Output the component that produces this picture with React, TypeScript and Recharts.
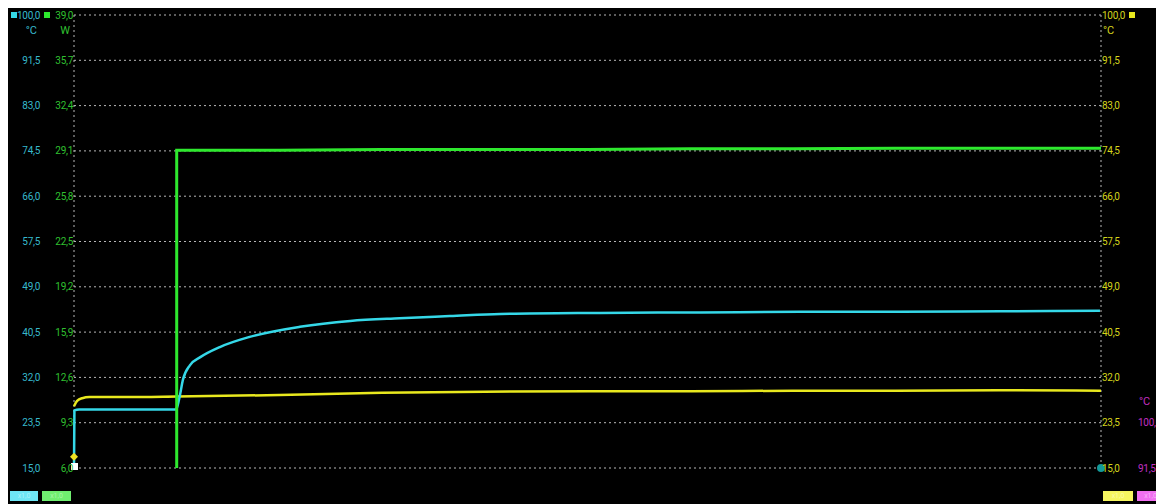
import { ComposedChart, Line, XAxis, YAxis, CartesianGrid, ReferenceDot } from 'recharts';

// time axis in grid divisions
const timeTicks = [0, 1, 2, 3, 4, 5, 6, 7, 8, 9, 10];
const tempTicks = [15.0, 23.5, 32.0, 40.5, 49.0, 57.5, 66.0, 74.5, 83.0, 91.5, 100.0];
const powerTicks = [6.0, 9.3, 12.6, 15.9, 19.2, 22.5, 25.8, 29.1, 32.4, 35.7, 39.0];
const magentaTicks = [91.5, 100.0];

// cyan: °C (left, outer)
const cyanTime = [0, 0.004, 0.05, 0.5, 0.99, 1.0, 1.03, 1.06, 1.13, 1.23, 1.42, 1.71, 2.2, 2.69, 3.17, 3.66, 4.15, 5.12, 6.1, 7.07, 8.05, 9.02, 9.99];
const cyanTemp = [15.0, 25.8, 26.0, 26.0, 26.0, 26.2, 28.5, 31.5, 34.3, 35.8, 37.7, 39.6, 41.5, 42.6, 43.1, 43.5, 43.9, 44.1, 44.2, 44.3, 44.3, 44.4, 44.5];

// green: W (left, inner)
const greenTime = [0, 1.0, 1.0, 2, 3, 4, 5, 6, 7, 8, 9, 10];
const greenPower = [0, 0, 29.15, 29.15, 29.2, 29.2, 29.2, 29.25, 29.25, 29.3, 29.3, 29.3];

// yellow: °C (right, inner)
const yellowTime = [0, 0.03, 0.08, 0.15, 0.5, 1.0, 2.0, 3.0, 4.0, 5.0, 6.0, 7.0, 8.0, 9.0, 10.0];
const yellowTemp = [26.6, 27.6, 28.1, 28.3, 28.3, 28.4, 28.7, 29.1, 29.3, 29.4, 29.4, 29.5, 29.5, 29.6, 29.5];

const CYAN = '#35d8e8';
const CYAN_TXT = '#37b9cc';
const GREEN = '#2ee82e';
const GREEN_TXT = '#30c030';
const YELLOW = '#e8e81e';
const YELLOW_TXT = '#d4d41c';
const MAGENTA = '#e020e0';
const MAGENTA_TXT = '#c22fc2';

const toPoints = (t: number[], v: number[]) => t.map((x, i) => ({ t: x, v: v[i] }));
const fmt = (v: number) => v.toFixed(1).replace('.', ',');

const FONT = 'Roboto, "Open Sans", sans-serif';

const abs = (left: number, top: number, extra: React.CSSProperties = {}): React.CSSProperties => ({
  position: 'absolute',
  left,
  top,
  ...extra,
});

// tick label drawn at the position recharts hands over
const makeTick = (fill: string, anchor: 'start' | 'end') => (p: any) => (
  <text
    x={p.x}
    y={p.y}
    dy="0.35em"
    textAnchor={anchor}
    fill={fill}
    fontSize={10}
    letterSpacing={-0.3}
    fontFamily={FONT}
  >
    {fmt(p.payload.value)}
  </text>
);

// axis ids sort inner -> outer: L1 green, L2 cyan, R1 yellow, R2 magenta
export default function App() {
  return (
    <div style={{ position: 'relative', width: 1156, height: 496, background: '#000', fontFamily: FONT }}>
      <style>{'body{overflow:hidden}'}</style>
      <ComposedChart width={1156} height={496} margin={{ top: 7, right: 0, left: 0, bottom: 0 }}>
        <CartesianGrid yAxisId="L2" stroke="#b8b8b8" strokeDasharray="2 3" strokeWidth={1} />
        <XAxis
          dataKey="t"
          type="number"
          domain={[0, 10]}
          ticks={timeTicks}
          tick={false}
          axisLine={false}
          tickLine={false}
          height={36}
          allowDuplicatedCategory={false}
        />
        <YAxis
          yAxisId="L2"
          orientation="left"
          width={34}
          type="number"
          domain={[15, 100]}
          ticks={tempTicks}
          allowDataOverflow
          axisLine={false}
          tickLine={false}
          tickSize={0}
          tickMargin={2}
          interval={0}
          tick={makeTick(CYAN_TXT, 'end')}
        />
        <YAxis
          yAxisId="L1"
          orientation="left"
          width={32}
          type="number"
          domain={[6, 39]}
          ticks={powerTicks}
          allowDataOverflow
          axisLine={false}
          tickLine={false}
          tickSize={0}
          tickMargin={1}
          interval={0}
          tick={makeTick(GREEN_TXT, 'end')}
        />
        <YAxis
          yAxisId="R1"
          orientation="right"
          width={36}
          type="number"
          domain={[15, 100]}
          ticks={tempTicks}
          allowDataOverflow
          axisLine={false}
          tickLine={false}
          tickSize={0}
          tickMargin={1}
          interval={0}
          tick={makeTick(YELLOW_TXT, 'start')}
        />
        <YAxis
          yAxisId="R2"
          orientation="right"
          width={27}
          type="number"
          domain={[91.5, 176.5]}
          ticks={magentaTicks}
          allowDataOverflow
          axisLine={false}
          tickLine={false}
          tickSize={0}
          tickMargin={1}
          interval={0}
          tick={makeTick(MAGENTA_TXT, 'start')}
        />
        <Line
          yAxisId="R1"
          data={toPoints(yellowTime, yellowTemp)}
          dataKey="v"
          type="monotone"
          stroke={YELLOW}
          strokeWidth={2.5}
          dot={false}
          isAnimationActive={false}
        />
        <Line
          yAxisId="L2"
          data={toPoints(cyanTime, cyanTemp)}
          dataKey="v"
          type="monotone"
          stroke={CYAN}
          strokeWidth={2.5}
          dot={false}
          isAnimationActive={false}
        />
        <Line
          yAxisId="L1"
          data={toPoints(greenTime, greenPower)}
          dataKey="v"
          type="linear"
          stroke={GREEN}
          strokeWidth={3}
          dot={false}
          isAnimationActive={false}
        />
        <ReferenceDot
          yAxisId="R1"
          x={0}
          y={17.1}
          shape={(p: any) => (
            <polygon
              points={`${p.cx},${p.cy - 4} ${p.cx + 4},${p.cy} ${p.cx},${p.cy + 4} ${p.cx - 4},${p.cy}`}
              fill="#f0e020"
            />
          )}
        />
        <ReferenceDot
          yAxisId="L2"
          x={0}
          y={15}
          shape={(p: any) => <rect x={p.cx - 3} y={p.cy - 5} width={7} height={7} fill="#ffffff" />}
        />
        <ReferenceDot
          yAxisId="L2"
          x={10}
          y={15}
          shape={(p: any) => <circle cx={p.cx} cy={p.cy} r={4} fill="#139a9a" />}
        />
      </ComposedChart>

      {/* channel markers and units */}
      <div style={abs(3, 4, { width: 6, height: 6, background: CYAN })} />
      <div style={abs(36, 4, { width: 6, height: 6, background: GREEN })} />
      <div style={abs(1121, 4, { width: 6, height: 6, background: YELLOW })} />
      <div style={abs(1150, 4, { width: 6, height: 6, background: MAGENTA })} />

      <div style={abs(0, 16, { width: 29, textAlign: 'right', fontSize: 11, lineHeight: '14px', color: CYAN_TXT })}>°C</div>
      <div style={abs(34, 16, { width: 28, textAlign: 'right', fontSize: 11, lineHeight: '14px', color: GREEN_TXT })}>W</div>
      <div style={abs(1095, 16, { fontSize: 11, lineHeight: '14px', color: YELLOW_TXT })}>°C</div>
      <div style={abs(1131, 387, { fontSize: 11, lineHeight: '14px', color: MAGENTA_TXT })}>°C</div>

      {/* scale boxes */}
      <div style={abs(2, 483, { width: 28, height: 10, background: '#6ee6f5', color: '#a8f2fa', fontSize: 7, lineHeight: '10px', textAlign: 'center' })}>x1,0</div>
      <div style={abs(34, 483, { width: 29, height: 10, background: '#70ee70', color: '#a8f6a8', fontSize: 7, lineHeight: '10px', textAlign: 'center' })}>x1,0</div>
      <div style={abs(1095, 483, { width: 30, height: 10, background: '#f6f660', color: '#fafaa8', fontSize: 7, lineHeight: '10px', textAlign: 'center' })}>x1,0</div>
      <div style={abs(1129, 483, { width: 27, height: 10, background: '#f070f0', color: '#f8b0f8', fontSize: 7, lineHeight: '10px', textAlign: 'center' })}>x1,0</div>
    </div>
  );
}
